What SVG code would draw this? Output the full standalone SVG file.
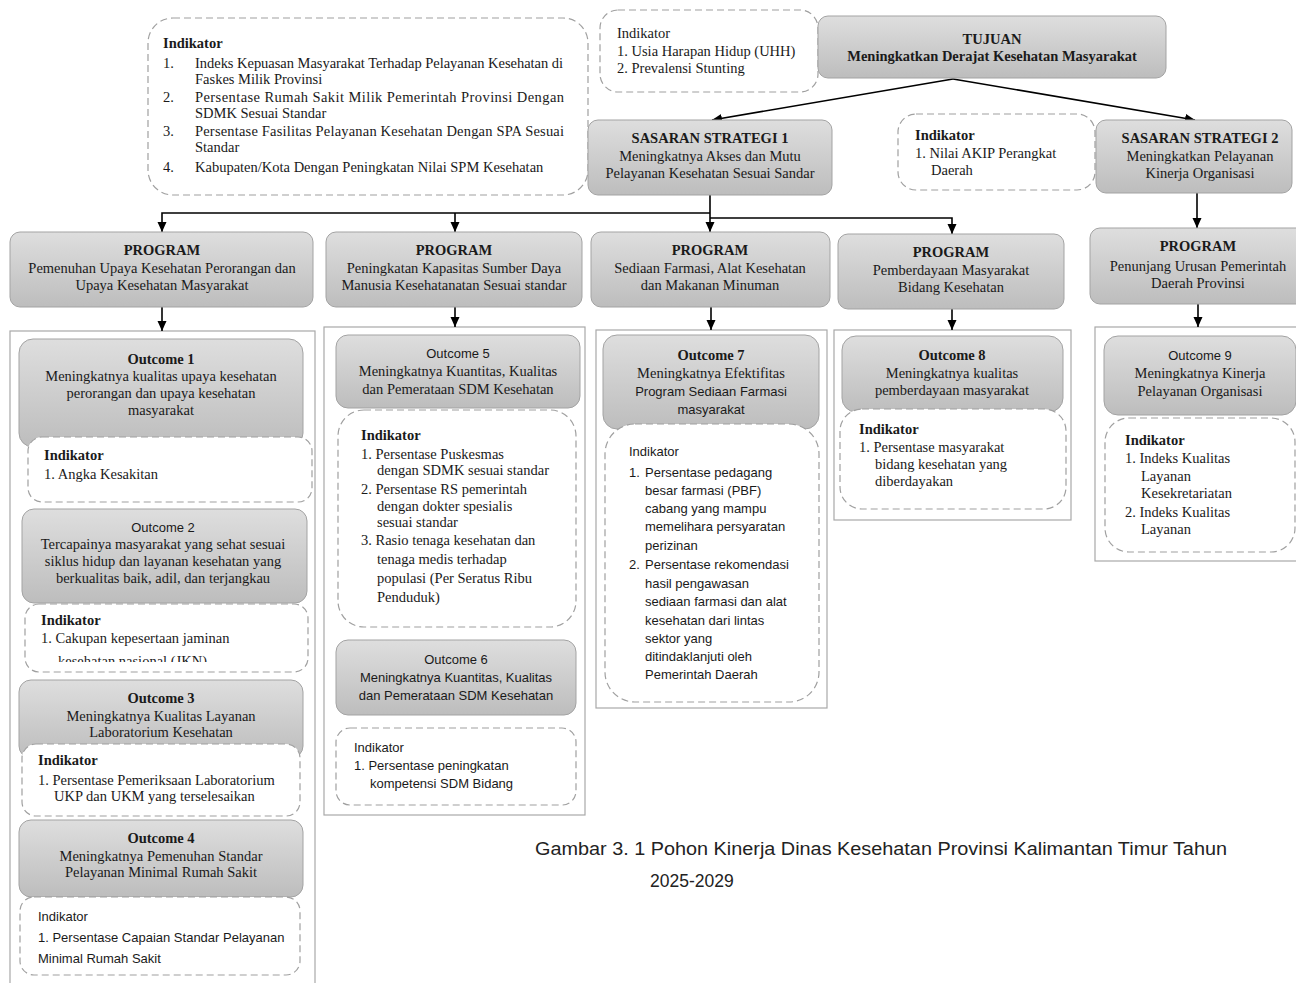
<svg xmlns="http://www.w3.org/2000/svg" width="1296" height="983" viewBox="0 0 1296 983">
<style>
.s{font-family:"Liberation Serif",serif;font-size:14.5px;fill:#1a1a1a}
.b{font-weight:bold}
.ss{font-family:"Liberation Sans",sans-serif;font-size:13px;fill:#1a1a1a}
.m{text-anchor:middle}
.g{fill:url(#gr);stroke:#a3a3a3;stroke-width:1}
.d{fill:#fff;stroke:#a0a0a0;stroke-width:1.2;stroke-dasharray:7 4}
.ct{fill:none;stroke:#a8a8a8;stroke-width:1.2}
.ln{fill:none;stroke:#000;stroke-width:1.6}
.ar{marker-end:url(#ah)}
.cap{font-family:"Liberation Sans",sans-serif;font-size:17.5px;fill:#222}
</style>
<defs>
<linearGradient id="gr" x1="0" y1="0" x2="0" y2="1">
<stop offset="0" stop-color="#dedede"/>
<stop offset="1" stop-color="#bdbdbd"/>
</linearGradient>
<marker id="ah" markerUnits="userSpaceOnUse" markerWidth="11" markerHeight="10" refX="10" refY="4.5" orient="auto">
<path d="M0,0 L10,4.5 L0,9 z" fill="#000"/>
</marker>
<clipPath id="clip2"><rect x="0" y="600" width="320" height="62"/></clipPath>
</defs>
<rect width="1296" height="983" fill="#fff"/>

<!-- containers -->
<g id="containers">
<rect class="ct" x="10" y="331" width="305" height="670"/>
<rect class="ct" x="324" y="327" width="261" height="488"/>
<rect class="ct" x="596" y="330" width="231" height="378"/>
<rect class="ct" x="834" y="330" width="237" height="190"/>
<rect class="ct" x="1095" y="327" width="220" height="234"/>
</g>

<g id="connectors">
<line class="ln ar" x1="953" y1="79" x2="712" y2="120"/>
<line class="ln ar" x1="953" y1="79" x2="1195" y2="120"/>
<line class="ln ar" x1="710" y1="195" x2="710" y2="232"/>
<polyline class="ln ar" points="710,213 162,213 162,232"/>
<line class="ln ar" x1="455" y1="213" x2="455" y2="232"/>
<polyline class="ln ar" points="710,218 952,218 952,234"/>
<line class="ln ar" x1="1197" y1="193" x2="1197" y2="228"/>
<line class="ln ar" x1="162" y1="307" x2="162" y2="331"/>
<line class="ln ar" x1="455" y1="307" x2="455" y2="327"/>
<line class="ln ar" x1="711" y1="307" x2="711" y2="330"/>
<line class="ln ar" x1="952" y1="309" x2="952" y2="330"/>
<line class="ln ar" x1="1198" y1="304" x2="1198" y2="327"/>
</g>

<g id="indikator-misi">
<rect class="d" x="148" y="18" width="440" height="177" rx="25"/>
<text class="s b" x="163" y="48">Indikator</text>
<text class="s" x="163" y="68">1.</text>
<text class="s" x="195" y="68" textLength="368" lengthAdjust="spacing">Indeks Kepuasan Masyarakat Terhadap Pelayanan Kesehatan di</text>
<text class="s" x="195" y="84">Faskes Milik Provinsi</text>
<text class="s" x="163" y="102">2.</text>
<text class="s" x="195" y="102" textLength="369" lengthAdjust="spacing">Persentase Rumah Sakit Milik Pemerintah Provinsi Dengan</text>
<text class="s" x="195" y="118">SDMK Sesuai Standar</text>
<text class="s" x="163" y="136">3.</text>
<text class="s" x="195" y="136" textLength="369" lengthAdjust="spacing">Persentase Fasilitas Pelayanan Kesehatan Dengan SPA Sesuai</text>
<text class="s" x="195" y="152">Standar</text>
<text class="s" x="163" y="172">4.</text>
<text class="s" x="195" y="172">Kabupaten/Kota Dengan  Peningkatan Nilai SPM Kesehatan</text>
</g>

<g id="indikator-tujuan">
<rect class="d" x="600" y="10" width="218" height="82" rx="18"/>
<text class="s" x="617" y="38">Indikator</text>
<text class="s" x="617" y="56">1. Usia Harapan  Hidup (UHH)</text>
<text class="s" x="617" y="73">2. Prevalensi Stunting</text>
</g>

<g id="tujuan">
<rect class="g" x="818" y="16" width="348" height="62" rx="10"/>
<text class="s b m" x="992" y="44">TUJUAN</text>
<text class="s b m" x="992" y="61">Meningkatkan Derajat Kesehatan Masyarakat</text>
</g>

<g id="sasaran1">
<rect class="g" x="588" y="120" width="244" height="75" rx="10"/>
<text class="s b m" x="710" y="143">SASARAN STRATEGI 1</text>
<text class="s m" x="710" y="161">Meningkatnya Akses dan Mutu</text>
<text class="s m" x="710" y="178">Pelayanan Kesehatan  Sesuai Sandar</text>
</g>

<g id="indikator-sasaran2">
<rect class="d" x="898" y="114" width="197" height="76" rx="18"/>
<text class="s b" x="915" y="140">Indikator</text>
<text class="s" x="915" y="158">1. Nilai AKIP Perangkat</text>
<text class="s" x="931" y="175">Daerah</text>
</g>

<g id="sasaran2">
<rect class="g" x="1096" y="120" width="196" height="73" rx="10"/>
<text class="s b m" x="1200" y="143">SASARAN STRATEGI 2</text>
<text class="s m" x="1200" y="161">Meningkatkan Pelayanan</text>
<text class="s m" x="1200" y="178">Kinerja Organisasi</text>
</g>

<g id="program1">
<rect class="g" x="10" y="232" width="303" height="75" rx="10"/>
<text class="s b m" x="162" y="255">PROGRAM</text>
<text class="s m" x="162" y="273">Pemenuhan Upaya Kesehatan  Perorangan dan</text>
<text class="s m" x="162" y="290">Upaya Kesehatan  Masyarakat</text>
</g>
<g id="program2">
<rect class="g" x="326" y="232" width="256" height="75" rx="10"/>
<text class="s b m" x="454" y="255">PROGRAM</text>
<text class="s m" x="454" y="273">Peningkatan Kapasitas Sumber Daya</text>
<text class="s m" x="454" y="290">Manusia Kesehatanatan  Sesuai standar</text>
</g>
<g id="program3">
<rect class="g" x="591" y="232" width="239" height="75" rx="10"/>
<text class="s b m" x="710" y="255">PROGRAM</text>
<text class="s m" x="710" y="273">Sediaan Farmasi, Alat Kesehatan</text>
<text class="s m" x="710" y="290">dan Makanan Minuman</text>
</g>
<g id="program4">
<rect class="g" x="838" y="234" width="226" height="75" rx="10"/>
<text class="s b m" x="951" y="257">PROGRAM</text>
<text class="s m" x="951" y="275">Pemberdayaan  Masyarakat</text>
<text class="s m" x="951" y="292">Bidang Kesehatan</text>
</g>
<g id="program5">
<rect class="g" x="1090" y="228" width="216" height="76" rx="10"/>
<text class="s b m" x="1198" y="251">PROGRAM</text>
<text class="s m" x="1198" y="271">Penunjang Urusan Pemerintah</text>
<text class="s m" x="1198" y="288">Daerah  Provinsi</text>
</g>

<!-- column 1 -->
<g id="outcome1">
<rect class="g" x="19" y="339" width="284" height="108" rx="14"/>
<text class="s b m" x="161" y="364">Outcome 1</text>
<text class="s m" x="161" y="381">Meningkatnya kualitas upaya kesehatan</text>
<text class="s m" x="161" y="398">perorangan  dan upaya kesehatan</text>
<text class="s m" x="161" y="415">masyarakat</text>
</g>
<g id="indikator-o1">
<rect class="d" x="28" y="437" width="284" height="65" rx="14"/>
<text class="s b" x="44" y="460">Indikator</text>
<text class="s" x="44" y="479">1. Angka Kesakitan</text>
</g>
<g id="outcome2">
<rect class="g" x="22" y="509" width="285" height="94" rx="12"/>
<text class="ss m" x="163" y="532">Outcome 2</text>
<text class="s m" x="163" y="549">Tercapainya  masyarakat yang sehat sesuai</text>
<text class="s m" x="163" y="566">siklus hidup dan layanan  kesehatan yang</text>
<text class="s m" x="163" y="583">berkualitas baik, adil, dan terjangkau</text>
</g>
<g id="indikator-o2">
<rect class="d" x="25" y="604" width="283" height="68" rx="14"/>
<text class="s b" x="41" y="625">Indikator</text>
<text class="s" x="41" y="643">1.  Cakupan kepesertaan  jaminan</text>
<text class="s" x="58" y="666" clip-path="url(#clip2)">kesehatan  nasional (JKN)</text>
</g>
<g id="outcome3">
<rect class="g" x="19" y="680" width="284" height="78" rx="12"/>
<text class="s b m" x="161" y="703">Outcome 3</text>
<text class="s m" x="161" y="721">Meningkatnya Kualitas Layanan</text>
<text class="s m" x="161" y="737">Laboratorium  Kesehatan</text>
</g>
<g id="indikator-o3">
<rect class="d" x="22" y="744" width="278" height="72" rx="14"/>
<text class="s b" x="38" y="765">Indikator</text>
<text class="s" x="38" y="785">1. Persentase Pemeriksaan Laboratorium</text>
<text class="s" x="54" y="801">UKP dan UKM yang terselesaikan</text>
</g>
<g id="outcome4">
<rect class="g" x="19" y="820" width="284" height="77" rx="12"/>
<text class="s b m" x="161" y="843">Outcome 4</text>
<text class="s m" x="161" y="861">Meningkatnya Pemenuhan Standar</text>
<text class="s m" x="161" y="877">Pelayanan Minimal Rumah Sakit</text>
</g>
<g id="indikator-o4">
<rect class="d" x="20" y="897" width="280" height="78" rx="14"/>
<text class="ss" x="38" y="921">Indikator</text>
<text class="ss" x="38" y="942">1. Persentase Capaian Standar Pelayanan</text>
<text class="ss" x="38" y="963">Minimal Rumah Sakit</text>
</g>

<!-- column 2 -->
<g id="outcome5">
<rect class="g" x="336" y="335" width="244" height="73" rx="12"/>
<text class="ss m" x="458" y="358">Outcome 5</text>
<text class="s m" x="458" y="376">Meningkatnya Kuantitas, Kualitas</text>
<text class="s m" x="458" y="394">dan Pemerataan SDM Kesehatan</text>
</g>
<g id="indikator-o5">
<rect class="d" x="338" y="410" width="238" height="217" rx="26"/>
<text class="s b" x="361" y="440">Indikator</text>
<text class="s" x="361" y="459">1. Persentase Puskesmas</text>
<text class="s" x="377" y="475">dengan SDMK sesuai standar</text>
<text class="s" x="361" y="494">2. Persentase RS pemerintah</text>
<text class="s" x="377" y="511">dengan dokter spesialis</text>
<text class="s" x="377" y="527">sesuai standar</text>
<text class="s" x="361" y="545">3. Rasio tenaga kesehatan  dan</text>
<text class="s" x="377" y="564">tenaga medis terhadap</text>
<text class="s" x="377" y="583">populasi (Per Seratus Ribu</text>
<text class="s" x="377" y="602">Penduduk)</text>
</g>
<g id="outcome6">
<rect class="g" x="336" y="640" width="240" height="75" rx="12"/>
<text class="ss m" x="456" y="664">Outcome 6</text>
<text class="ss m" x="456" y="682">Meningkatnya Kuantitas, Kualitas</text>
<text class="ss m" x="456" y="700">dan Pemerataan SDM Kesehatan</text>
</g>
<g id="indikator-o6">
<rect class="d" x="336" y="728" width="240" height="77" rx="14"/>
<text class="ss" x="354" y="752">Indikator</text>
<text class="ss" x="354" y="770">1. Persentase peningkatan</text>
<text class="ss" x="370" y="788">kompetensi SDM Bidang</text>
</g>

<!-- column 3 -->
<g id="outcome7">
<rect class="g" x="603" y="335" width="216" height="94" rx="14"/>
<text class="s b m" x="711" y="360">Outcome 7</text>
<text class="s m" x="711" y="378">Meningkatnya Efektifitas</text>
<text class="ss m" x="711" y="396">Program Sediaan Farmasi</text>
<text class="ss m" x="711" y="414">masyarakat</text>
</g>
<g id="indikator-o7">
<rect class="d" x="605" y="424" width="214" height="278" rx="30"/>
<text class="ss" x="629" y="456">Indikator</text>
<text class="ss" x="629" y="477">1.</text>
<text class="ss" x="645" y="477">Persentase pedagang</text>
<text class="ss" x="645" y="495">besar farmasi (PBF)</text>
<text class="ss" x="645" y="513">cabang yang mampu</text>
<text class="ss" x="645" y="531">memelihara persyaratan</text>
<text class="ss" x="645" y="550">perizinan</text>
<text class="ss" x="629" y="569">2.</text>
<text class="ss" x="645" y="569">Persentase rekomendasi</text>
<text class="ss" x="645" y="588">hasil pengawasan</text>
<text class="ss" x="645" y="606">sediaan farmasi dan alat</text>
<text class="ss" x="645" y="625">kesehatan dari lintas</text>
<text class="ss" x="645" y="643">sektor yang</text>
<text class="ss" x="645" y="661">ditindaklanjuti oleh</text>
<text class="ss" x="645" y="679">Pemerintah Daerah</text>
</g>

<!-- column 4 -->
<g id="outcome8">
<rect class="g" x="842" y="336" width="221" height="76" rx="14"/>
<text class="s b m" x="952" y="360">Outcome 8</text>
<text class="s m" x="952" y="378">Meningkatnya kualitas</text>
<text class="s m" x="952" y="395">pemberdayaan  masyarakat</text>
</g>
<g id="indikator-o8">
<rect class="d" x="840" y="409" width="226" height="100" rx="22"/>
<text class="s b" x="859" y="434">Indikator</text>
<text class="s" x="859" y="452">1. Persentase masyarakat</text>
<text class="s" x="875" y="469">bidang kesehatan  yang</text>
<text class="s" x="875" y="486">diberdayakan</text>
</g>

<!-- column 5 -->
<g id="outcome9">
<rect class="g" x="1104" y="336" width="192" height="79" rx="14"/>
<text class="ss m" x="1200" y="360">Outcome 9</text>
<text class="s m" x="1200" y="378">Meningkatnya Kinerja</text>
<text class="s m" x="1200" y="396">Pelayanan Organisasi</text>
</g>
<g id="indikator-o9">
<rect class="d" x="1105" y="418" width="190" height="134" rx="24"/>
<text class="s b" x="1125" y="445">Indikator</text>
<text class="s" x="1125" y="463">1. Indeks Kualitas</text>
<text class="s" x="1141" y="481">Layanan</text>
<text class="s" x="1141" y="498">Kesekretariatan</text>
<text class="s" x="1125" y="517">2. Indeks Kualitas</text>
<text class="s" x="1141" y="534">Layanan</text>
</g>

<g id="caption">
<text class="cap" x="535" y="855" textLength="692" lengthAdjust="spacingAndGlyphs">Gambar 3. 1 Pohon Kinerja Dinas Kesehatan Provinsi Kalimantan Timur Tahun</text>
<text class="cap" x="650" y="887">2025-2029</text>
</g>
</svg>
